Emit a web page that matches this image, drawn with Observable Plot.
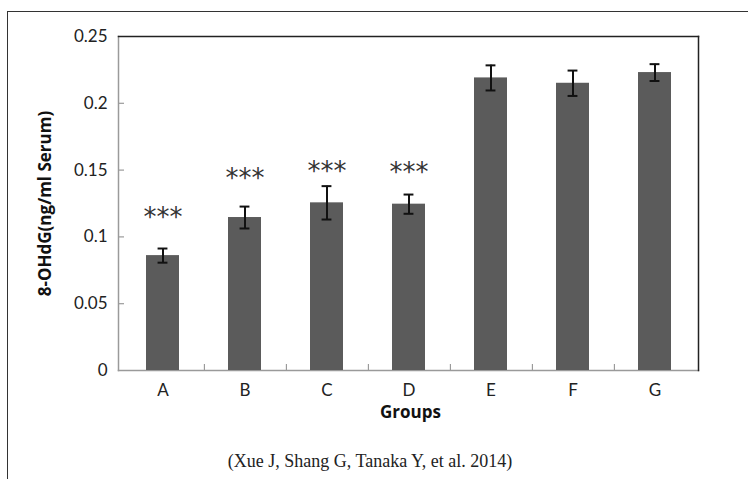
<!DOCTYPE html>
<html>
<head>
<meta charset="utf-8">
<script src="https://cdn.jsdelivr.net/npm/d3@7"></script>
<script src="https://cdn.jsdelivr.net/npm/@observablehq/plot@0.6"></script>
<style>
  html, body { margin: 0; padding: 0; background: #fff; }
  #wrap { position: relative; width: 748px; height: 479px; overflow: hidden; background: #fff; }
  #border { position: absolute; left: 7px; top: 11px; width: 760px; height: 480px;
            border-top: 1.5px solid #333; border-left: 1.5px solid #333; box-sizing: border-box; }
  #chart { position: absolute; left: 0; top: 0; }
  #caption { position: absolute; left: 0; top: 451px; width: 740px; text-align: center;
             font-family: "Liberation Serif", "Times New Roman", serif; font-size: 18px; color: #222; }
</style>
</head>
<body>
<div id="wrap">
  <div id="border"></div>
  <div id="chart"></div>
  <div id="caption">(Xue J, Shang G, Tanaka Y, et al. 2014)</div>
</div>
<script>
// ---- data ----
const groups = ["A", "B", "C", "D", "E", "F", "G"];
const means  = [0.086, 0.1145, 0.1255, 0.1245, 0.219, 0.215, 0.223];
const errors = [0.0053, 0.0082, 0.0125, 0.0072, 0.0094, 0.0095, 0.0063];
const starGroups = ["A", "B", "C", "D"];
const starLabels = ["***", "***", "***", "***"];
const starLevels = [0.1175, 0.1467, 0.152, 0.1512];
const yTicks = [0, 0.05, 0.1, 0.15, 0.2, 0.25];
const yTickLabels = ["0", "0.05", "0.1", "0.15", "0.2", "0.25"];
const yLabel = "8-OHdG(ng/ml Serum)";
const xLabel = "Groups";

const data = groups.map((g, i) => ({group: g, mean: means[i], err: errors[i]}));
const stars = starGroups.map((g, i) => ({group: g, level: starLevels[i], text: starLabels[i]}));

const W = 748, H = 440, ML = 118, MR = 50, MT = 36, MB = 70;
const PI = 0.6, PO = 0.3;
const plotW = W - ML - MR, plotH = H - MT - MB;
const step = plotW / (groups.length - PI + 2 * PO);
const font = "Lato, 'Open Sans', sans-serif";
const boldFont = "'Open Sans', Lato, sans-serif";

const chart = Plot.plot({
  width: W, height: H,
  marginLeft: ML, marginRight: MR, marginTop: MT, marginBottom: MB,
  style: {fontFamily: font, background: "transparent", color: "#222"},
  x: {domain: groups, paddingInner: PI, paddingOuter: PO, label: null},
  y: {domain: [0, 0.25], label: null},
  marks: [
    Plot.frame({anchor: "left", stroke: "#9a9a9a", strokeWidth: 1.5}),
    Plot.frame({anchor: "bottom", stroke: "#9a9a9a", strokeWidth: 1.5}),
    Plot.frame({anchor: "top", stroke: "#222", strokeWidth: 1.5}),
    Plot.frame({anchor: "right", stroke: "#222", strokeWidth: 1.5}),
    // inward y ticks
    Plot.ruleY(yTicks.slice(1, -1), {y: d => d, stroke: "#9a9a9a", strokeWidth: 1.2, insetRight: plotW - 6}),
    // inward x ticks at band boundaries
    Plot.ruleX(groups.slice(0, -1), {x: d => d, dx: step / 2, stroke: "#9a9a9a", strokeWidth: 1.2, insetTop: plotH - 6}),
    Plot.axisY({ticks: yTicks, tickFormat: d => yTickLabels[yTicks.indexOf(d)], tickSize: 0, tickPadding: 11,
                fontSize: 17, fill: "#222", label: null}),
    Plot.axisX({tickSize: 0, tickPadding: 13, fontSize: 17, fill: "#222", label: null}),
    Plot.barY(data, {x: "group", y: "mean", fill: "#5b5b5b"}),
    Plot.ruleX(data, {x: "group", y1: d => d.mean - d.err, y2: d => d.mean + d.err, stroke: "#111", strokeWidth: 2}),
    Plot.tickY(data, {x: "group", y: d => d.mean + d.err, stroke: "#111", strokeWidth: 2, inset: (step * (1 - PI) - 10) / 2}),
    Plot.tickY(data, {x: "group", y: d => d.mean - d.err, stroke: "#111", strokeWidth: 2, inset: (step * (1 - PI) - 10) / 2}),
    Plot.text(stars, {x: "group", y: "level", text: "text", fontSize: 26, fontFamily: "'DejaVu Sans', sans-serif",
                      fill: "#333", dy: 4, lineAnchor: "middle"}),
    Plot.text([yLabel], {frameAnchor: "left", dx: -73, rotate: -90, fontSize: 17, fontWeight: "bold",
                         fontFamily: boldFont, fill: "#111", textAnchor: "middle", lineAnchor: "middle"}),
    Plot.text([xLabel], {frameAnchor: "bottom", dx: 2, dy: 42, fontSize: 17, fontWeight: "bold",
                         fontFamily: boldFont, fill: "#111", textAnchor: "middle", lineAnchor: "middle"})
  ]
});
document.getElementById("chart").appendChild(chart);
</script>
</body>
</html>
